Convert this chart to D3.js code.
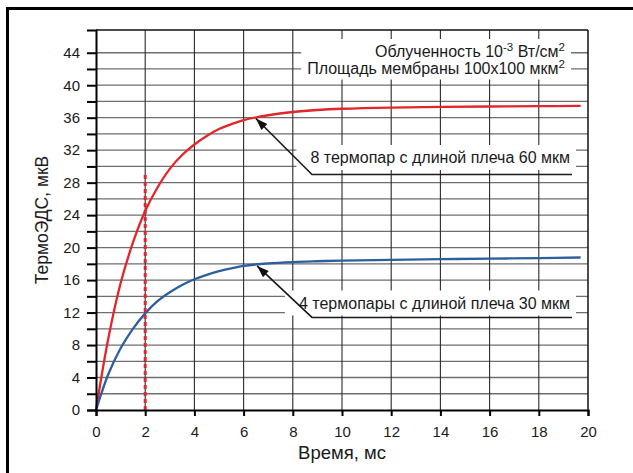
<!DOCTYPE html>
<html><head><meta charset="utf-8">
<script src="https://cdn.jsdelivr.net/npm/d3@7"></script>
<style>
body{margin:0;background:#fff}
svg{display:block}
text{font-family:"Liberation Sans",Arial,sans-serif;fill:#1a1a1a}
</style>
</head><body>
<svg id="c" width="633" height="473"></svg>
<script>
// ---- data ----
const timeMs = [0, 0.5, 1, 1.5, 2, 2.5, 3, 3.5, 4, 4.5, 5, 5.5, 6, 7, 8, 9, 10, 12, 14, 16, 18, 19.7];
const emf8 = [0, 8.8, 15.6, 20.6, 24.5, 27.4, 29.7, 31.4, 32.7, 33.75, 34.6, 35.2, 35.7, 36.3, 36.7, 36.95, 37.1, 37.25, 37.32, 37.38, 37.42, 37.45];
const emf4 = [0, 4.4, 7.6, 10.0, 11.9, 13.4, 14.5, 15.4, 16.1, 16.65, 17.1, 17.45, 17.75, 18.05, 18.22, 18.32, 18.4, 18.5, 18.57, 18.64, 18.7, 18.78];
const xTickValues = [0, 2, 4, 6, 8, 10, 12, 14, 16, 18, 20];
const yTickValues = [0, 2, 4, 6, 8, 10, 12, 14, 16, 18, 20, 22, 24, 26, 28, 30, 32, 34, 36, 38, 40, 42, 44];
const yLabelValues = [0, 4, 8, 12, 16, 20, 24, 28, 32, 36, 40, 44];
const markerTime = 2, markerTop = 29.3;
const xTitle = "Время, мс";
const yTitle = "ТермоЭДС, мкВ";
const label8 = "8 термопар с длиной плеча 60 мкм";
const label4 = "4 термопары с длиной плеча 30 мкм";

const svg = d3.select("#c");
const L = 96, R = 588, T = 30, B = 410;
const x = d3.scaleLinear().domain([0, 20]).range([L, R]);
const y = d3.scaleLinear().domain([0, 46.8]).range([B, T]);

// outer frame (left + top)
svg.append("line").attr("x1", 7.5).attr("y1", 8).attr("x2", 7.5).attr("y2", 473).attr("stroke", "#000").attr("stroke-width", 3);
svg.append("line").attr("x1", 6).attr("y1", 8.5).attr("x2", 633).attr("y2", 8.5).attr("stroke", "#000").attr("stroke-width", 3);

// grid
const grid = svg.append("g");
grid.selectAll("line.h").data(yTickValues.filter(d => d > 0)).join("line")
  .attr("x1", L).attr("x2", R).attr("y1", d => y(d)).attr("y2", d => y(d))
  .attr("stroke", "#6e6e6e").attr("stroke-width", 1.3);
grid.selectAll("line.v").data(xTickValues.filter(d => d > 0 && d < 20)).join("line")
  .attr("x1", d => x(d)).attr("x2", d => x(d)).attr("y1", T).attr("y2", B)
  .attr("stroke", "#2a2a2a").attr("stroke-width", 1.1);

// annotation layer (white boxes behind text)
const ann = svg.append("g");
function boxedText(lines, anchorX, padL, padR, padT, padB) {
  const g = ann.append("g");
  const rect = g.append("rect").attr("fill", "#fff");
  const tg = g.append("g");
  lines.forEach(l => {
    const t = tg.append("text").attr("x", anchorX).attr("y", l.y).attr("text-anchor", "end").style("font-size", "16px");
    l.parts.forEach(p => {
      const ts = t.append("tspan").text(p.t);
      if (p.sup) ts.attr("baseline-shift", "super").style("font-size", "11.5px");
    });
  });
  const bb = tg.node().getBBox();
  rect.attr("x", bb.x - padL).attr("y", bb.y - padT).attr("width", bb.width + padL + padR).attr("height", bb.height + padT + padB);
}
boxedText([
  {y: 57, parts: [{t: "Облученность 10"}, {t: "-3", sup: true}, {t: " Вт/см"}, {t: "2", sup: true}]},
  {y: 73.5, parts: [{t: "Площадь мембраны 100x100 мкм"}, {t: "2", sup: true}]}
], 565, 6, 6, 2, 3);
boxedText([{y: 163, parts: [{t: label8}]}], 570, 14, 6, 4, 4);
boxedText([{y: 308.5, parts: [{t: label4}]}], 570, 14, 6, 4, 4);

// curves
const line = d3.line().x((d, i) => x(timeMs[i])).y(d => y(d)).curve(d3.curveCatmullRom.alpha(0.5));
svg.append("path").attr("d", line(emf8)).attr("fill", "none").attr("stroke", "#e2262b").attr("stroke-width", 2.3);
svg.append("path").attr("d", line(emf4)).attr("fill", "none").attr("stroke", "#2d5f9e").attr("stroke-width", 2.3);

// dashed marker at t = 2 ms
svg.append("line").attr("x1", x(markerTime)).attr("x2", x(markerTime)).attr("y1", y(0)).attr("y2", y(markerTop))
  .attr("stroke", "#e0262c").attr("stroke-width", 3).attr("stroke-dasharray", "4,3");

// leaders with arrows
function leader(tip, elbow, endT) {
  const tx = x(tip[0]), ty = y(tip[1]), ex = x(elbow[0]), ey = y(elbow[1]);
  svg.append("path").attr("d", `M${x(endT)},${ey}L${ex},${ey}L${tx},${ty}`)
    .attr("fill", "none").attr("stroke", "#1a1a1a").attr("stroke-width", 1.6);
  const a = Math.atan2(ey - ty, ex - tx), len = 12, w = 4.2;
  const bx = tx + len * Math.cos(a), by = ty + len * Math.sin(a);
  const px = -Math.sin(a) * w, py = Math.cos(a) * w;
  svg.append("path").attr("d", `M${tx},${ty}L${bx + px},${by + py}L${bx - px},${by - py}Z`).attr("fill", "#111");
}
leader([6.5, 35.9], [8.78, 29.0], 19.35);
leader([6.55, 17.75], [8.78, 11.4], 19.35);

// plot box
svg.append("line").attr("x1", L).attr("x2", R).attr("y1", T).attr("y2", T).attr("stroke", "#111").attr("stroke-width", 1.5);
svg.append("line").attr("x1", R).attr("x2", R).attr("y1", T).attr("y2", B).attr("stroke", "#111").attr("stroke-width", 1.5);

// axes
const ax = svg.append("g").attr("transform", `translate(0,${B})`)
  .call(d3.axisBottom(x).tickValues(xTickValues).tickSize(6).tickPadding(10).tickFormat(d3.format("d")));
const ay = svg.append("g").attr("transform", `translate(${L},0)`)
  .call(d3.axisLeft(y).tickValues(yTickValues).tickSize(9).tickPadding(7).tickFormat(d => yLabelValues.includes(d) ? d : ""));
[ax, ay].forEach(g => {
  g.select(".domain").attr("stroke", "#000").attr("stroke-width", 2);
  g.selectAll(".tick line").attr("stroke", "#000").attr("stroke-width", 2);
  g.selectAll(".tick text").style("font-size", "15px").attr("fill", "#1a1a1a").style("font-family", "'Liberation Sans',Arial,sans-serif");
});

// titles
svg.append("text").attr("x", (L + R) / 2).attr("y", 459).attr("text-anchor", "middle").style("font-size", "18.5px").text(xTitle);
svg.append("text").attr("transform", `translate(48,${(T + B) / 2}) rotate(-90)`).attr("text-anchor", "middle").style("font-size", "17.5px").text(yTitle);
</script>
</body></html>
